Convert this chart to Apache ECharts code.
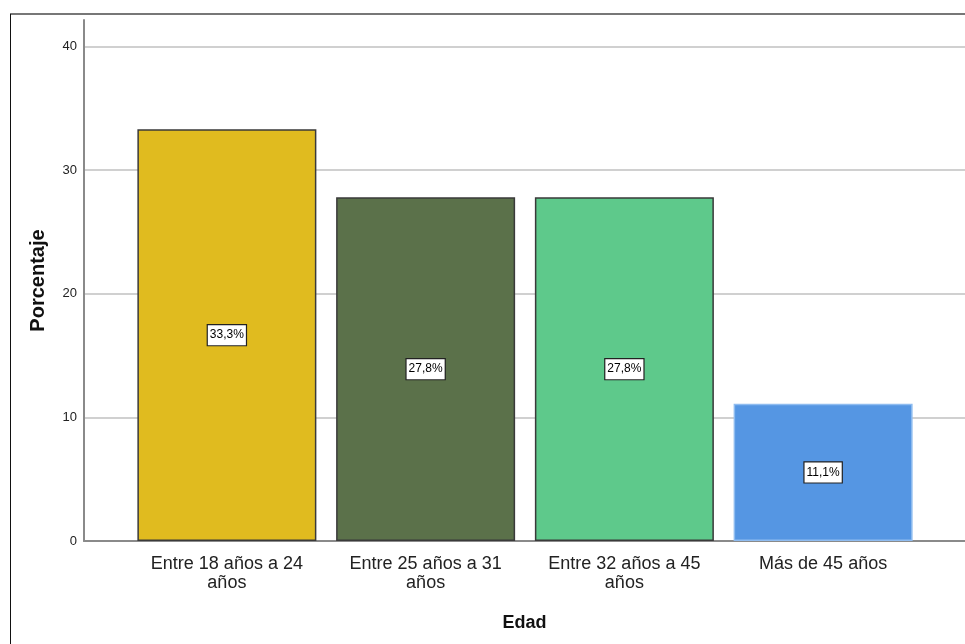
<!DOCTYPE html>
<html><head><meta charset="utf-8">
<script src="https://cdn.jsdelivr.net/npm/echarts@6/dist/echarts.min.js"></script>
<style>html,body{margin:0;padding:0;background:#fff}#c{width:965px;height:644px}</style>
</head><body><div id="c"></div>
<script>
var categories = ['Entre 18 años a 24\naños', 'Entre 25 años a 31\naños', 'Entre 32 años a 45\naños', 'Más de 45 años'];
var values = [33.3, 27.8, 27.8, 11.1];
var labels = ['33,3%', '27,8%', '27,8%', '11,1%'];
var colors = ['#e0bb1f', '#5b714a', '#5ec98b', '#5596e3'];
var borders = ['#3a3a3a', '#3a3a3a', '#3a3a3a', '#8fbcf0'];
var yTicks = [0, 10, 20, 30, 40];

var chart = echarts.init(document.getElementById('c'));
var font = 'Arial, "Liberation Sans", sans-serif';
chart.setOption({
  animation: false,
  textStyle: {fontFamily: font},
  graphic: [
    {type: 'line', shape: {x1: 10, y1: 14, x2: 965, y2: 14}, style: {stroke: '#777', lineWidth: 2}},
    {type: 'line', shape: {x1: 10.5, y1: 14, x2: 10.5, y2: 644}, style: {stroke: '#111', lineWidth: 1}}
  ],
  grid: [
    {left: 84, right: 0, top: 46.5, bottom: 103},
    {left: 84, right: 0, top: 20, bottom: 103},
    {left: 127.5, right: 42.5, top: 46.5, bottom: 103}
  ],
  xAxis: [
    {gridIndex: 0, type: 'category', data: [''], axisTick: {show: false}, axisLabel: {show: false},
     axisLine: {lineStyle: {color: '#8a8a8a', width: 2}},
     name: 'Edad', nameLocation: 'middle', nameGap: 73,
     nameTextStyle: {fontFamily: font, fontSize: 18, fontWeight: 'bold', color: '#111'}},
    {gridIndex: 1, type: 'category', data: [''], show: false},
    {gridIndex: 2, type: 'category', data: categories, axisTick: {show: false},
     axisLine: {show: false},
     axisLabel: {fontFamily: font, fontSize: 18, color: '#222', lineHeight: 19, margin: 14, interval: 0}}
  ],
  yAxis: [
    {gridIndex: 0, type: 'value', min: 0, max: 40, interval: 10,
     axisLine: {show: false}, axisTick: {show: false},
     axisLabel: {fontFamily: font, fontSize: 13, color: '#222', margin: 7,
       formatter: function (v) { return yTicks.indexOf(v) >= 0 ? String(v) : ''; }},
     splitLine: {show: true, lineStyle: {color: '#d0d0d0', width: 2}}},
    {gridIndex: 1, type: 'value', min: 0, max: 42.15,
     axisLine: {show: true, lineStyle: {color: '#8a8a8a', width: 2}},
     axisTick: {show: false}, axisLabel: {show: false}, splitLine: {show: false},
     name: 'Porcentaje', nameLocation: 'middle', nameGap: 36, nameRotate: 90,
     nameTextStyle: {fontFamily: font, fontSize: 20, fontWeight: 'bold', color: '#111'}},
    {gridIndex: 2, type: 'value', min: 0, max: 40, show: false, splitLine: {show: false}}
  ],
  series: [{
    type: 'bar', xAxisIndex: 2, yAxisIndex: 2, barWidth: 179,
    data: values.map(function (v, i) {
      return {value: v, itemStyle: {color: colors[i], borderColor: borders[i], borderWidth: 1.5}};
    }),
    label: {
      show: true, position: 'inside',
      formatter: function (p) { return labels[p.dataIndex]; },
      fontFamily: font, fontSize: 12, color: '#000',
      backgroundColor: '#fff', borderColor: '#222', borderWidth: 1.2,
      padding: [5, 2, 3, 2]
    }
  }]
});
</script></body></html>
